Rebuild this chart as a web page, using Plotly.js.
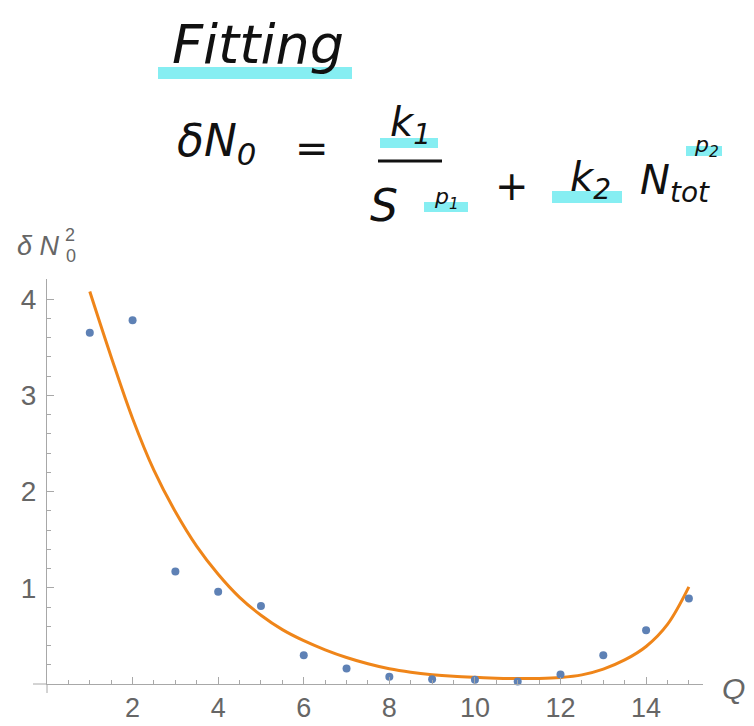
<!DOCTYPE html>
<html>
<head>
<meta charset="utf-8">
<script src="https://cdn.plot.ly/plotly-3.0.1.min.js"></script>
<style>html,body{margin:0;padding:0;background:#fff;}#chart{width:754px;height:726px;}</style>
</head>
<body>
<div id="chart"></div>
<script>
// ---- data ----
const pointQ = [1, 2, 3, 4, 5, 6, 7, 8, 9, 10, 11, 12, 13, 14, 15];
const pointDN = [3.65, 3.78, 1.17, 0.96, 0.81, 0.30, 0.16, 0.075, 0.05, 0.045, 0.027, 0.10, 0.30, 0.56, 0.89];

const fitQ = [1.0, 1.5, 2.0, 2.5, 3.0, 3.5, 4.0, 4.5, 5.0, 5.5, 6.0, 6.5, 7.0, 7.5, 8.0, 8.5, 9.0, 9.5, 10.0, 10.5, 11.0, 11.5, 12.0, 12.5, 13.0, 13.5, 14.0, 14.5, 15.0];
const fitDN = [4.08, 3.40, 2.76, 2.22, 1.79, 1.43, 1.14, 0.90, 0.715, 0.565, 0.45, 0.355, 0.275, 0.21, 0.158, 0.122, 0.097, 0.080, 0.069, 0.061, 0.057, 0.058, 0.068, 0.095, 0.155, 0.250, 0.390, 0.620, 1.01];

const xTickVals = [2, 4, 6, 8, 10, 12, 14];
const yTickVals = [1, 2, 3, 4];

// ---- layout helpers (pixel -> paper) ----
const L = 47, R = 703, T = 279, B = 684;
const W = R - L, H = B - T;
const px = x => (x - L) / W;
const py = y => (B - y) / H;

const axisCol = '#a8a8a8';
const labelCol = '#666666';
const cyan = '#86EEF2';

function ann(text, x, y, size, opts) {
  return Object.assign({
    text: text, xref: 'paper', yref: 'paper', x: px(x), y: py(y),
    xanchor: 'center', yanchor: 'middle', showarrow: false,
    font: {family: 'DejaVu Sans, sans-serif', size: size, color: '#111', style: 'italic'}
  }, opts || {});
}
function hl(x0, x1, y, w) {
  return {type: 'line', xref: 'paper', yref: 'paper', x0: px(x0), x1: px(x1), y0: py(y), y1: py(y),
          line: {color: cyan, width: w}, layer: 'above'};
}
const gfont = (size, italic) => ({family: 'Liberation Sans, Arial, sans-serif', size: size, color: labelCol, style: italic ? 'italic' : 'normal'});

const traces = [
  {x: fitQ, y: fitDN, type: 'scatter', mode: 'lines', line: {color: '#EF8519', width: 3, shape: 'spline', smoothing: 1.0},
   hoverinfo: 'skip', cliponaxis: false},
  {x: pointQ, y: pointDN, type: 'scatter', mode: 'markers', marker: {color: '#5E81B5', size: 8}, cliponaxis: false}
];

const layout = {
  width: 754, height: 726, autosize: false,
  margin: {l: L, r: 754 - R, t: T, b: 726 - B, pad: 0},
  paper_bgcolor: '#fff', plot_bgcolor: '#fff',
  showlegend: false,
  xaxis: {
    range: [0, 15.33], showgrid: false, zeroline: false,
    showline: true, linecolor: axisCol, linewidth: 1,
    tickmode: 'array', tickvals: xTickVals, ticktext: xTickVals.map(String),
    ticks: 'inside', ticklen: 7, tickcolor: axisCol, tickwidth: 1,
    minor: {ticks: 'inside', ticklen: 4, tickcolor: axisCol, tick0: 0, dtick: 0.5, showgrid: false},
    tickfont: gfont(27, false),
    ticklabelstandoff: 0
  },
  yaxis: {
    range: [0, 4.21], showgrid: false, zeroline: false,
    showline: true, linecolor: axisCol, linewidth: 1,
    tickmode: 'array', tickvals: yTickVals, ticktext: yTickVals.map(String),
    ticks: 'inside', ticklen: 7, tickcolor: axisCol, tickwidth: 1,
    minor: {ticks: 'inside', ticklen: 4, tickcolor: axisCol, tick0: 0, dtick: 0.2, showgrid: false},
    tickfont: gfont(28, false),
    ticklabelstandoff: 4
  },
  shapes: [
    // axis extensions past origin
    {type: 'line', xref: 'paper', yref: 'paper', x0: px(33), x1: px(47), y0: 0, y1: 0, line: {color: axisCol, width: 1}},
    {type: 'line', xref: 'paper', yref: 'paper', x0: 0, x1: 0, y0: py(693), y1: 0, line: {color: axisCol, width: 1}},
    // cyan highlights
    hl(158, 352, 73, 12),
    hl(380, 438, 143, 10),
    hl(424, 468, 207, 10),
    hl(552, 622, 197, 12),
    hl(686, 722, 151, 10),
    // fraction bar
    {type: 'line', xref: 'paper', yref: 'paper', x0: px(378), x1: px(442), y0: py(161), y1: py(161), line: {color: '#111', width: 3}}
  ],
  annotations: [
    // handwritten header
    ann('Fitting', 258, 44, 54),
    ann('δN<sub>0</sub>', 216, 143, 44),
    ann('=', 312, 148, 40),
    ann('k<sub>1</sub>', 410, 125, 40),
    ann('S', 384, 205, 44),
    ann('p<sub>1</sub>', 446, 198, 22),
    ann('+', 512, 186, 40),
    ann('k<sub>2</sub>', 590, 180, 40),
    ann('N<sub>tot</sub>', 675, 183, 40),
    ann('p<sub>2</sub>', 706, 146, 22),
    // axis labels
    ann('δ N', 38, 246, 27, {font: gfont(27, true)}),
    ann('2', 70, 235, 18, {font: gfont(18, false)}),
    ann('0', 71, 256, 18, {font: gfont(18, false)}),
    ann('Q', 733, 688, 30, {font: gfont(30, true)})
  ]
};

Plotly.newPlot('chart', traces, layout, {displayModeBar: false, staticPlot: true});
</script>
</body>
</html>
